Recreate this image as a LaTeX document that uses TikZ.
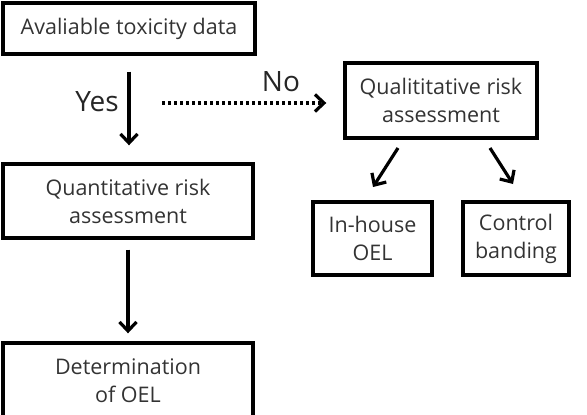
\documentclass[tikz,border=0pt]{standalone}
\usepackage{fontspec}
\setmainfont{Open Sans}
\usetikzlibrary{arrows.meta}
\begin{document}
\begin{tikzpicture}[x=1pt,y=-1pt,
  box/.style={draw=black, line width=3.4pt, inner sep=0pt, align=center,
    font=\fontsize{21.5}{28}\selectfont, text=black!80},
  arr/.style={line width=3.2pt, -{Straight Barb[length=9pt,width=17pt,line width=3.2pt]}},
  lbl/.style={font=\fontsize{28}{30}\selectfont, text=black!85, inner sep=0pt}]
\clip (0,0) rectangle (587,415);
\useasboundingbox (0,0) rectangle (587,415);
\node[box, minimum width=252pt, minimum height=51pt] (b1) at (129,28.5) {Avaliable toxicity data};
\node[box, minimum width=250pt, minimum height=74pt] (quant) at (128,201) {Quantitative risk\\assessment};
\node[box, minimum width=250pt, minimum height=76pt] (det) at (128,381) {Determination\\of OEL};
\node[box, minimum width=192pt, minimum height=75pt] (qual) at (441,100.5) {Qualititative risk\\assessment};
\node[box, minimum width=119pt, minimum height=73pt] (inh) at (372.5,238.5) {In-house\\OEL};
\node[box, minimum width=106pt, minimum height=73pt] (cb) at (516,238.5) {Control\\banding};
\node[lbl] (yes) at (97,102) {Yes};
\node[lbl] (no) at (281,82) {No};
\draw[arr, shorten <=16pt, shorten >=17pt] (b1.south) -- (b1.south |- quant.north);
\draw[arr, shorten <=10pt, shorten >=8pt] (quant.south) -- (det.north);
\coordinate (nos) at (162,103);
\draw[arr, dash pattern=on 3pt off 3pt, shorten >=17pt] (nos) -- (nos -| qual.west);
\coordinate (d1a) at (398,148);
\coordinate (d1b) at (373,187);
\coordinate (d2a) at (490,148);
\coordinate (d2b) at (513,184);
\draw[arr] (d1a) -- (d1b);
\draw[arr] (d2a) -- (d2b);
\end{tikzpicture}
\end{document}
